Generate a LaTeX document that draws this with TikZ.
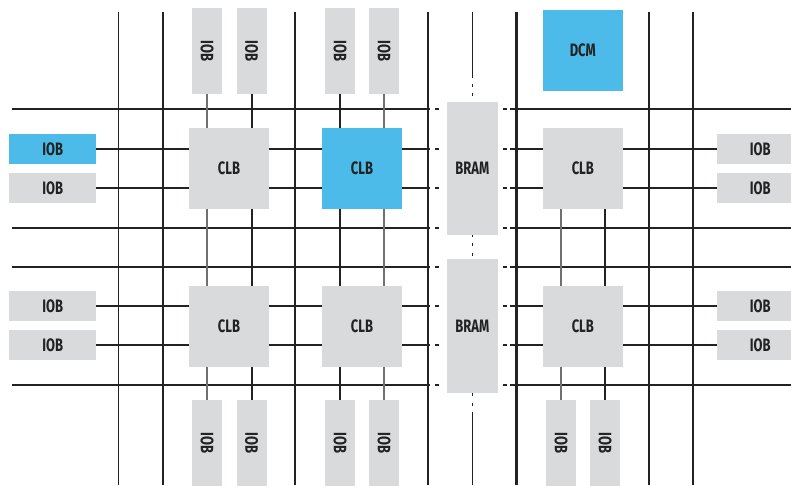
\documentclass[tikz,border=0pt]{standalone}
\usepackage{fontspec}
\setmainfont{Fira Sans}[FakeStretch=0.72]
\usetikzlibrary{backgrounds}
\definecolor{boxgrey}{HTML}{D9DADB}
\definecolor{fblue}{HTML}{4DBBEA}
\definecolor{ink}{HTML}{222222}
\definecolor{pingrey}{HTML}{707070}
\begin{document}
\begin{tikzpicture}[x=1pt,y=-1pt,
  gbox/.style={fill=boxgrey, draw=none, inner sep=0pt, font=\bfseries\fontsize{18}{20}\selectfont, text=ink},
  bbox/.style={gbox, fill=fblue},
  clb/.style={minimum width=80pt, minimum height=81pt},
  hiob/.style={minimum width=87pt, minimum height=30pt},
  viob/.style={minimum width=30pt, minimum height=86pt},
  bram/.style={minimum width=50.5pt, minimum height=133.5pt},
  thickv/.style={line width=2.3pt, draw=ink},
  thinv/.style={line width=1.3pt, draw=ink},
  hline/.style={line width=2pt, draw=ink},
  pinblk/.style={line width=2pt, draw=ink},
  pingry/.style={line width=1.3pt, draw=pingrey},
  bramline/.style={line width=1.3pt, draw=ink},
]
\useasboundingbox (0,0) rectangle (791,485);
\clip (0,0) rectangle (791,485);

% CLBs and DCM
\node[gbox,clb] (c1) at (229,168.5) {CLB};
\node[bbox,clb] (c2) at (362,168.5) {CLB};
\node[gbox,clb] (c3) at (582.8,168.5) {CLB};
\node[gbox,clb] (c4) at (229,326) {CLB};
\node[gbox,clb] (c5) at (362,326) {CLB};
\node[gbox,clb] (c6) at (582.8,326) {CLB};
\node[bbox,clb] (dcm) at (582.8,50.5) {DCM};

% BRAMs
\node[gbox,bram] (br1) at (472.3,168.4) {BRAM};
\node[gbox,bram] (br2) at (472.3,326) {BRAM};

% top IOBs
\node[gbox,viob] (t1) at (207,51) {\rotatebox{-90}{IOB}};
\node[gbox,viob] (t2) at (251.5,51) {\rotatebox{-90}{IOB}};
\node[gbox,viob] (t3) at (340,51) {\rotatebox{-90}{IOB}};
\node[gbox,viob] (t4) at (384,51) {\rotatebox{-90}{IOB}};

% bottom IOBs
\node[gbox,viob] (b1) at (207,443.3) {\rotatebox{-90}{IOB}};
\node[gbox,viob] (b2) at (251.5,443.3) {\rotatebox{-90}{IOB}};
\node[gbox,viob] (b3) at (340,443.3) {\rotatebox{-90}{IOB}};
\node[gbox,viob] (b4) at (384,443.3) {\rotatebox{-90}{IOB}};
\node[gbox,viob] (b5) at (561,443.3) {\rotatebox{-90}{IOB}};
\node[gbox,viob] (b6) at (605.2,443.3) {\rotatebox{-90}{IOB}};

% left IOBs
\node[bbox,hiob] (l1) at (52.7,149.2) {IOB};
\node[gbox,hiob] (l2) at (52.7,188.3) {IOB};
\node[gbox,hiob] (l3) at (52.7,306.2) {IOB};
\node[gbox,hiob] (l4) at (52.7,345.4) {IOB};

% right IOBs
\node[gbox,hiob] (r1) at (760.2,149.2) {IOB};
\node[gbox,hiob] (r2) at (760.2,188.3) {IOB};
\node[gbox,hiob] (r3) at (760.2,306.2) {IOB};
\node[gbox,hiob] (r4) at (760.2,345.4) {IOB};

\begin{scope}[on background layer]
  % vertical routing lines
  \foreach \x in {118.5,295,649,693} \draw[thinv] (\x,12) -- (\x,485);
  \foreach \x in {163,428,516.5} \draw[thickv] (\x,12) -- (\x,485);

  % long horizontal routing lines (broken at the BRAM column)
  \foreach \y in {109,228,266.7,385} {
    \draw[hline] (12,\y) -- (430,\y);
    \draw[hline] (435,\y) -- (439,\y);
    \draw[hline] (503,\y) -- (506.5,\y);
    \draw[hline] (510,\y) -- (791,\y);
  }

  % horizontal pin lines from left IOBs to right IOBs
  \foreach \a/\b in {l1/r1,l2/r2,l3/r3,l4/r4} {
    \draw[hline] (\a.east) -- (\a.east -| 430,0);
    \draw[hline] (\a.east -| 435,0) -- (\a.east -| 439,0);
    \draw[hline] (\b.west -| 503,0) -- (\b.west -| 506.5,0);
    \draw[hline] (\b.west -| 510,0) -- (\b.west);
  }

  % vertical pin lines from top IOBs to bottom IOBs
  \draw[pingry] (t1.south) -- (b1.north);
  \draw[pinblk] (t2.south) -- (b2.north);
  \draw[pinblk] (t3.south) -- (b3.north);
  \draw[pingry] (t4.south) -- (b4.north);
  \draw[pingry] (b5 |- c3.south) -- (b5.north);
  \draw[pinblk] (b6 |- c3.south) -- (b6.north);

  % BRAM column line (dotted between blocks)
  \draw[bramline] (br1.north |- 0,12) -- (br1.north |- 0,78);
  \draw[bramline] (br1.north |- 0,84) -- (br1.north |- 0,87);
  \draw[bramline] (br1.north |- 0,92.7) -- (br1.north |- 0,96);
  \draw[bramline] (br1.south) -- (br1.south |- 0,237.3);
  \draw[bramline] (br1.south |- 0,243) -- (br1.south |- 0,246);
  \draw[bramline] (br1.south |- 0,252.7) -- (br1.south |- 0,255.7);
  \draw[bramline] (br2.south) -- (br2.south |- 0,396);
  \draw[bramline] (br2.south |- 0,402.7) -- (br2.south |- 0,405.7);
  \draw[bramline] (br2.south |- 0,411.7) -- (br2.south |- 0,485);
\end{scope}
\end{tikzpicture}
\end{document}
